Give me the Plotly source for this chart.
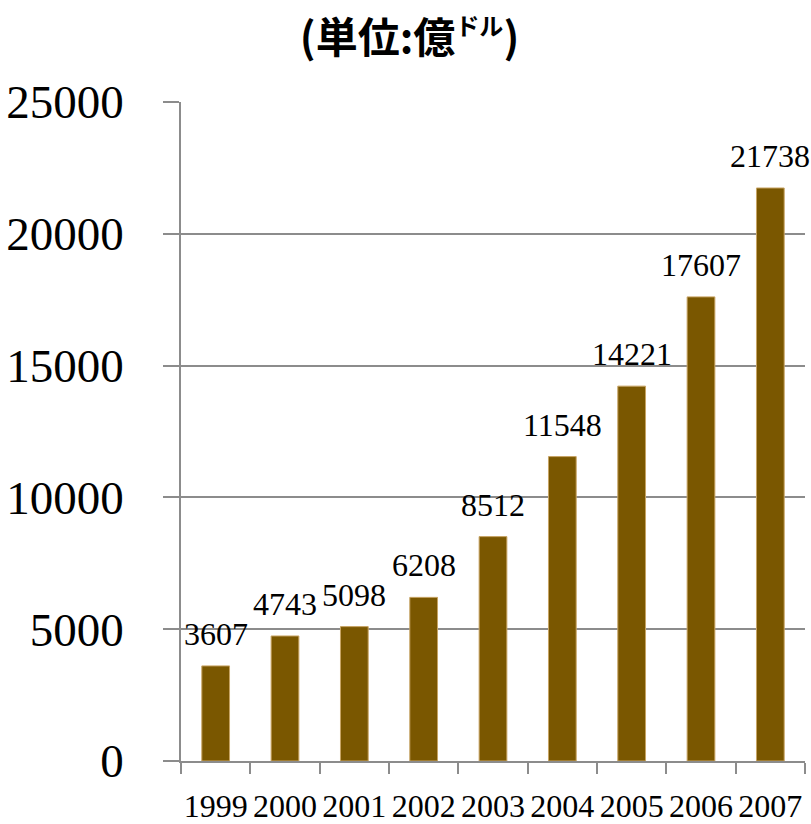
import plotly.graph_objects as go

years = ["1999", "2000", "2001", "2002", "2003", "2004", "2005", "2006", "2007"]
values = [3607, 4743, 5098, 6208, 8512, 11548, 14221, 17607, 21738]
y_ticks = [0, 5000, 10000, 15000, 20000, 25000]

SERIF = "Liberation Serif"

xpos = list(range(len(years)))
boundaries = [i - 0.5 for i in range(len(years) + 1)]

fig = go.Figure()
fig.add_trace(go.Bar(
    x=xpos, y=values,
    marker=dict(color="#7a5700", line=dict(color="#c8a464", width=1)),
    width=0.40,
    hoverinfo="skip",
))

for xp, v in zip(xpos, values):
    fig.add_annotation(
        x=xp, y=v, text=str(v), showarrow=False,
        yanchor="bottom", yshift=12,
        font=dict(family=SERIF, size=32, color="black"),
    )

fig.update_layout(
    width=811, height=824,
    margin=dict(l=181, r=6, t=102, b=63, autoexpand=False),
    paper_bgcolor="white", plot_bgcolor="white",
    showlegend=False,
    title=dict(
        text="(単位:億<sup><span style='font-size:24px'>ドル</span></sup>)",
        x=0.505, xref="container", xanchor="center",
        y=1 - 38 / 824, yref="container", yanchor="middle",
        font=dict(family="Noto Sans CJK JP", size=42, color="black", weight="bold"),
    ),
)

fig.update_xaxes(
    range=[-0.5, len(years) - 0.5],
    tickmode="array", tickvals=xpos, ticktext=years,
    showline=True, linecolor="#8c8c8c", linewidth=1.5,
    ticks="", tickangle=0, automargin=False,
    tickfont=dict(family=SERIF, size=32, color="black"),
    ticklabelstandoff=16,
    showgrid=False, zeroline=False,
    minor=dict(tickmode="array", tickvals=boundaries, ticks="outside", ticklen=11,
               tickcolor="#8c8c8c", tickwidth=1.5, showgrid=False),
)
fig.update_yaxes(
    range=[0, 25000], automargin=False,
    tickmode="array", tickvals=y_ticks, ticktext=[str(t) for t in y_ticks],
    showline=True, linecolor="#8c8c8c", linewidth=1.5,
    showgrid=True, gridcolor="#8c8c8c", gridwidth=1.5,
    ticks="outside", ticklen=16, tickcolor="#8c8c8c", tickwidth=1.5,
    tickfont=dict(family=SERIF, size=47, color="black"),
    ticklabelstandoff=30,
    zeroline=False,
)

fig.write_html("out.html")
